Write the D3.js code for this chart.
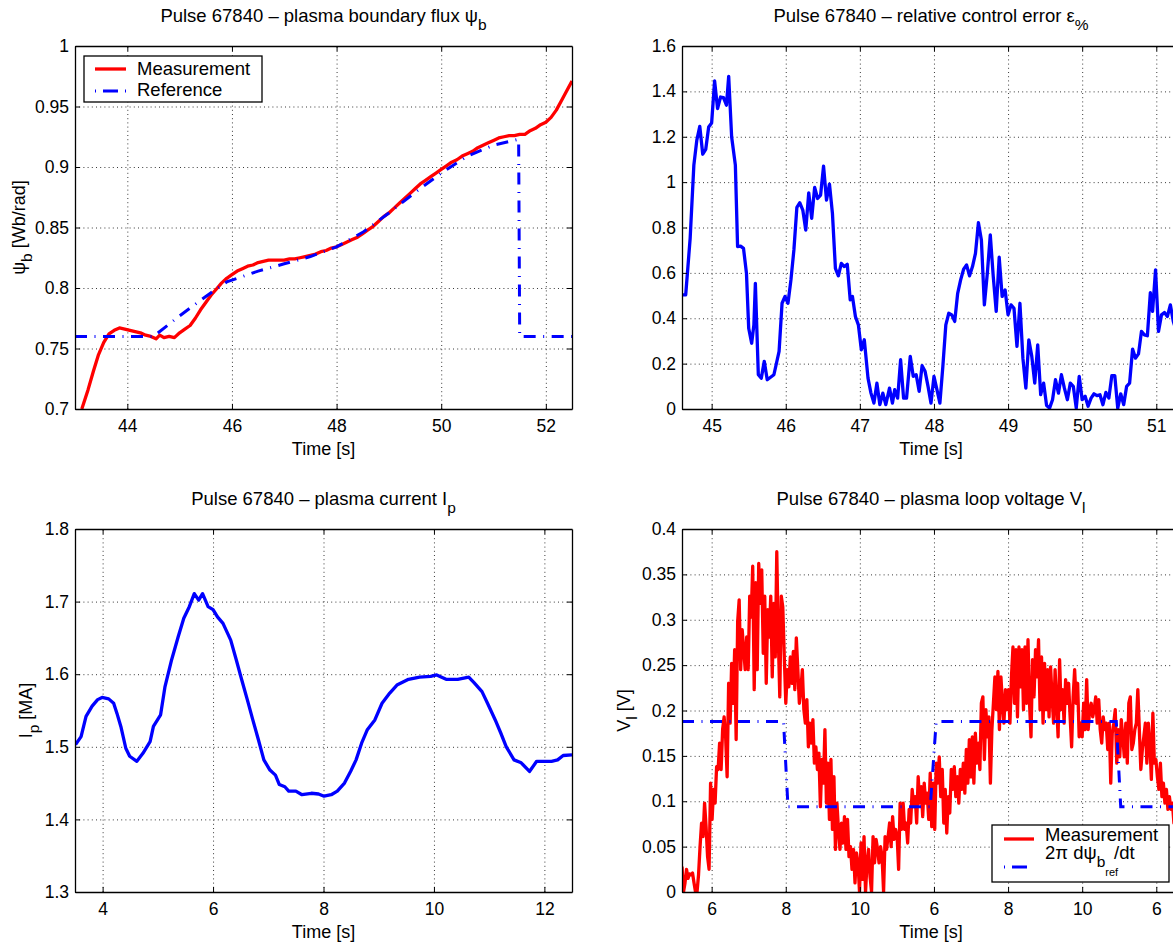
<!DOCTYPE html>
<html>
<head>
<meta charset="utf-8">
<script src="https://cdn.jsdelivr.net/npm/d3@7"></script>
<style>
  body { margin: 0; background: #fff; }
  text { font-family: "Liberation Sans", Arial, Helvetica, sans-serif; fill: #000; }
</style>
</head>
<body>
<svg id="fig" width="1173" height="943"></svg>
<script>
// ---------- Panel 1: plasma boundary flux psi_b [Wb/rad] ----------
const psiTime = [43.13,43.25,43.35,43.45,43.55,43.65,43.75,43.85,43.95,44.05,44.15,44.25,44.35,44.45,44.55,44.62,44.70,44.80,44.90,45.00,
  45.10,45.20,45.30,45.40,45.50,45.60,45.70,45.80,45.90,46.00,46.10,46.20,46.30,46.40,46.50,46.60,46.70,46.80,46.90,47.00,
  47.10,47.20,47.30,47.40,47.50,47.60,47.70,47.80,47.90,48.00,48.10,48.20,48.30,48.40,48.50,48.60,48.70,48.80,48.90,49.00,
  49.10,49.20,49.30,49.40,49.50,49.60,49.70,49.80,49.90,50.00,50.10,50.20,50.30,50.40,50.50,50.60,50.70,50.80,50.90,51.00,
  51.10,51.20,51.30,51.40,51.50,51.60,51.70,51.80,51.90,52.00,52.10,52.20,52.30,52.40,52.50];
const psiMeasured = [0.700,0.716,0.731,0.745,0.755,0.762,0.765,0.767,0.766,0.765,0.764,0.763,0.761,0.760,0.758,0.761,0.759,0.760,0.759,0.763,
  0.766,0.769,0.775,0.782,0.788,0.794,0.799,0.804,0.808,0.811,0.814,0.816,0.818,0.819,0.821,0.822,0.823,0.823,0.823,0.823,
  0.824,0.824,0.825,0.826,0.827,0.828,0.830,0.831,0.833,0.834,0.836,0.838,0.840,0.842,0.845,0.848,0.851,0.855,0.859,0.862,
  0.866,0.870,0.874,0.878,0.882,0.886,0.889,0.892,0.895,0.898,0.901,0.904,0.906,0.909,0.911,0.913,0.916,0.918,0.920,0.922,
  0.924,0.925,0.926,0.926,0.927,0.927,0.930,0.932,0.935,0.937,0.941,0.947,0.955,0.963,0.971];
const psiRefTime = [43.0,44.5,45.0,45.5,45.9,46.5,47.0,47.5,48.0,48.5,49.0,49.5,50.0,50.5,51.0,51.48,51.5,52.5];
const psiReference = [0.760,0.760,0.777,0.793,0.805,0.814,0.820,0.826,0.834,0.846,0.862,0.879,0.895,0.909,0.918,0.923,0.760,0.760];
const psiXTicks = [44,46,48,50,52];
const psiYTicks = [0.7,0.75,0.8,0.85,0.9,0.95,1];
const psiYTickLabels = ["0.7","0.75","0.8","0.85","0.9","0.95","1"];

// ---------- Panel 2: relative control error [%] ----------
const errTime = [44.60,44.65,44.71,44.76,44.80,44.84,44.88,44.92,44.96,45.00,45.04,45.08,45.12,45.16,45.20,45.23,45.27,45.32,45.35,45.39,
  45.43,45.47,45.50,45.54,45.57,45.59,45.63,45.67,45.71,45.75,45.80,45.84,45.87,45.91,45.95,45.99,46.03,46.07,46.11,46.15,
  46.19,46.23,46.27,46.31,46.35,46.39,46.43,46.47,46.51,46.55,46.59,46.63,46.67,46.71,46.75,46.79,46.83,46.87,46.90,46.94,
  46.98,47.02,47.06,47.11,47.15,47.19,47.23,47.27,47.31,47.35,47.40,47.44,47.47,47.51,47.55,47.59,47.63,47.68,47.72,47.76,
  47.80,47.84,47.88,47.92,47.96,48.00,48.04,48.08,48.12,48.16,48.20,48.24,48.28,48.32,48.36,48.40,48.44,48.48,48.52,48.56,
  48.60,48.64,48.68,48.72,48.76,48.80,48.84,48.88,48.92,48.96,49.00,49.04,49.08,49.12,49.16,49.20,49.24,49.28,49.32,49.36,
  49.40,49.44,49.48,49.52,49.56,49.60,49.64,49.68,49.72,49.76,49.80,49.84,49.88,49.92,49.96,50.00,50.04,50.08,50.12,50.16,
  50.20,50.24,50.28,50.32,50.36,50.40,50.44,50.48,50.52,50.56,50.60,50.64,50.68,50.72,50.76,50.80,50.84,50.88,50.92,50.95,
  50.99,51.03,51.07,51.11,51.15,51.19,51.23,51.27,51.31,51.35];
const errValue = [0.503,0.503,0.752,1.075,1.185,1.246,1.123,1.144,1.243,1.261,1.446,1.324,1.375,1.372,1.339,1.466,1.199,1.075,0.716,0.718,
  0.708,0.598,0.356,0.290,0.371,0.554,0.151,0.136,0.210,0.129,0.141,0.151,0.195,0.254,0.466,0.496,0.466,0.569,0.701,0.889,
  0.909,0.877,0.789,0.953,0.840,0.977,0.928,0.943,1.070,0.921,0.991,0.862,0.620,0.587,0.642,0.628,0.638,0.481,0.496,0.408,
  0.371,0.261,0.305,0.136,0.070,0.026,0.114,0.019,0.070,0.019,0.092,0.026,0.085,0.048,0.217,0.048,0.048,0.232,0.144,0.151,
  0.078,0.191,0.166,0.100,0.026,0.144,0.085,0.026,0.188,0.371,0.422,0.415,0.386,0.510,0.569,0.616,0.635,0.587,0.628,0.686,
  0.821,0.745,0.459,0.598,0.767,0.584,0.430,0.669,0.496,0.525,0.415,0.459,0.444,0.276,0.466,0.224,0.092,0.305,0.232,0.114,
  0.283,0.063,0.114,0.015,0.004,0.041,0.129,0.070,0.151,0.092,0.041,0.114,0.100,0.004,0.144,0.041,0.056,0.012,0.048,0.067,
  0.059,0.063,0.019,0.073,0.048,0.147,0.147,0.004,0.067,0.019,0.100,0.114,0.264,0.224,0.243,0.342,0.327,0.323,0.513,0.430,
  0.613,0.342,0.415,0.425,0.408,0.459,0.386,0.342,0.320,0.300];
const errXTicks = [45,46,47,48,49,50,51];
const errYTicks = [0,0.2,0.4,0.6,0.8,1,1.2,1.4,1.6];
const errYTickLabels = ["0","0.2","0.4","0.6","0.8","1","1.2","1.4","1.6"];

// ---------- Panel 3: plasma current Ip [MA] ----------
const ipTime = [3.51,3.61,3.70,3.81,3.91,3.99,4.11,4.20,4.26,4.33,4.42,4.49,4.62,4.73,4.86,4.92,5.05,5.13,5.25,5.37,
  5.47,5.57,5.66,5.74,5.81,5.91,6.00,6.08,6.18,6.32,6.42,6.52,6.62,6.72,6.82,6.92,7.03,7.13,7.20,7.30,
  7.37,7.50,7.61,7.78,7.91,8.01,8.14,8.25,8.38,8.49,8.59,8.69,8.79,8.93,9.06,9.20,9.33,9.54,9.74,9.94,
  10.05,10.22,10.43,10.63,10.73,10.87,10.97,11.11,11.21,11.31,11.45,11.58,11.73,11.86,12.00,12.13,12.24,12.34,12.50];
const ipValue = [1.503,1.514,1.542,1.556,1.565,1.568,1.566,1.560,1.546,1.528,1.498,1.487,1.480,1.491,1.507,1.528,1.544,1.583,1.620,1.652,
  1.677,1.693,1.711,1.702,1.711,1.693,1.689,1.679,1.670,1.647,1.620,1.592,1.565,1.537,1.510,1.482,1.468,1.461,1.448,1.445,
  1.439,1.439,1.434,1.436,1.435,1.432,1.434,1.439,1.450,1.466,1.482,1.505,1.523,1.537,1.560,1.574,1.585,1.593,1.596,1.597,
  1.599,1.593,1.593,1.596,1.588,1.576,1.560,1.537,1.519,1.500,1.482,1.478,1.466,1.480,1.480,1.480,1.482,1.488,1.489];
const ipXTicks = [4,6,8,10,12];
const ipYTicks = [1.3,1.4,1.5,1.6,1.7,1.8];
const ipYTickLabels = ["1.3","1.4","1.5","1.6","1.7","1.8"];

// ---------- Panel 4: loop voltage Vl [V] ----------
// measured loop voltage, uniformly sampled from vlStart every vlStep seconds
const vlStart = 44.6;
const vlStep = 0.0203;
const vlMeasured = [0.028,0.0,0.01,0.025,0.015,0.02,0.019,0.021,0.01,0.0,0.0,0.019,0.05,0.076,0.061,0.098,0.072,0.039,0.025,0.12,
  0.08,0.113,0.098,0.138,0.135,0.164,0.135,0.179,0.193,0.171,0.127,0.23,0.186,0.252,0.208,0.267,0.168,0.298,0.322,0.245,
  0.289,0.267,0.245,0.281,0.245,0.326,0.303,0.359,0.223,0.341,0.245,0.362,0.318,0.355,0.263,0.326,0.23,0.311,0.281,0.326,
  0.237,0.318,0.259,0.375,0.281,0.215,0.326,0.314,0.259,0.208,0.245,0.226,0.259,0.23,0.265,0.223,0.28,0.245,0.208,0.223,
  0.245,0.201,0.186,0.212,0.16,0.186,0.164,0.19,0.142,0.16,0.135,0.153,0.094,0.146,0.12,0.179,0.098,0.142,0.08,0.146,
  0.069,0.127,0.047,0.098,0.069,0.047,0.076,0.054,0.083,0.047,0.08,0.039,0.05,0.025,0.047,0.01,0.043,0.032,0.0,0.054,
  0.014,0.061,0.0,0.032,0.047,0.017,0.0,0.061,0.032,0.058,0.047,0.032,0.05,0.039,0.0,0.061,0.047,0.061,0.076,0.05,
  0.083,0.058,0.069,0.061,0.025,0.098,0.069,0.098,0.069,0.076,0.054,0.091,0.076,0.113,0.094,0.105,0.076,0.127,0.098,0.116,
  0.083,0.12,0.098,0.109,0.08,0.131,0.072,0.12,0.069,0.142,0.12,0.149,0.105,0.135,0.076,0.113,0.065,0.105,0.087,0.135,
  0.113,0.138,0.105,0.127,0.098,0.135,0.113,0.142,0.109,0.157,0.12,0.168,0.127,0.171,0.12,0.175,0.142,0.164,0.135,0.208,
  0.215,0.146,0.201,0.171,0.193,0.12,0.179,0.208,0.237,0.201,0.243,0.179,0.237,0.208,0.186,0.223,0.201,0.223,0.186,0.237,
  0.27,0.208,0.267,0.193,0.27,0.226,0.267,0.201,0.27,0.208,0.278,0.208,0.171,0.256,0.215,0.267,0.237,0.278,0.201,0.259,
  0.186,0.252,0.201,0.245,0.193,0.248,0.215,0.186,0.245,0.208,0.171,0.256,0.201,0.223,0.186,0.234,0.208,0.23,0.193,0.16,
  0.215,0.245,0.208,0.23,0.171,0.186,0.171,0.208,0.179,0.234,0.179,0.201,0.208,0.193,0.201,0.215,0.186,0.212,0.179,0.164,
  0.193,0.179,0.186,0.157,0.186,0.12,0.175,0.186,0.201,0.142,0.179,0.149,0.19,0.171,0.149,0.186,0.142,0.208,0.215,0.157,
  0.164,0.179,0.186,0.223,0.179,0.135,0.157,0.171,0.186,0.142,0.186,0.164,0.124,0.197,0.142,0.146,0.127,0.113,0.142,0.105,
  0.12,0.098,0.113,0.091,0.105,0.091,0.098,0.076,0.087,0.061,0.065,0.05,0.055];
const vlRefTime = [44.6,45.97,46.03,47.95,48.03,50.46,50.52,51.4];
const vlReference = [0.188,0.188,0.094,0.094,0.188,0.188,0.094,0.094];
const vlXTicks = [45,46,47,48,49,50,51];
const vlXTickLabels = ["6","8","10","6","8","10","6"];
const vlYTicks = [0,0.05,0.1,0.15,0.2,0.25,0.3,0.35,0.4];
const vlYTickLabels = ["0","0.05","0.1","0.15","0.2","0.25","0.3","0.35","0.4"];

// ---------- drawing ----------
const RED = "#ff0000", BLUE = "#0000ff";
const FS_TICK = 17.5, FS_TEXT = 18.5;
const svg = d3.select("#fig");
svg.append("rect").attr("width", 1173).attr("height", 943).attr("fill", "#fff");

const boxes = {
  psi: {left: 75, right: 572, top: 46, bottom: 409},
  err: {left: 682, right: 1180, top: 46, bottom: 409},
  ip:  {left: 75, right: 572, top: 529, bottom: 892},
  vl:  {left: 682, right: 1180, top: 529, bottom: 892}
};

function makeAxes(key, xDomain, yDomain, xTicks, xLabels, yTicks, yLabels) {
  const b = boxes[key];
  const w = b.right - b.left, h = b.bottom - b.top;
  const x = d3.scaleLinear().domain(xDomain).range([b.left, b.right]);
  const y = d3.scaleLinear().domain(yDomain).range([b.bottom, b.top]);
  const g = svg.append("g");
  g.append("defs").append("clipPath").attr("id", "clip-" + key)
    .append("rect").attr("x", b.left).attr("y", b.top).attr("width", w).attr("height", h);

  // dotted grid
  const gridX = g.append("g").attr("transform", `translate(0,${b.bottom})`)
    .call(d3.axisBottom(x).tickValues(xTicks).tickSize(-h).tickFormat(""));
  const gridY = g.append("g").attr("transform", `translate(${b.left},0)`)
    .call(d3.axisLeft(y).tickValues(yTicks).tickSize(-w).tickFormat(""));
  [gridX, gridY].forEach(s => {
    s.select(".domain").remove();
    s.selectAll("line").attr("stroke", "#3a3a3a").attr("stroke-width", 1).attr("stroke-dasharray", "1,3.2");
  });

  const plot = g.append("g").attr("clip-path", `url(#clip-${key})`);
  const frame = g.append("g");

  const fmtX = (d, i) => xLabels ? xLabels[i] : String(d);
  const fmtY = (d, i) => yLabels[i];

  const bottom = frame.append("g").attr("transform", `translate(0,${b.bottom})`)
    .call(d3.axisBottom(x).tickValues(xTicks).tickFormat(fmtX).tickSizeInner(-5).tickSizeOuter(0).tickPadding(11));
  const top = frame.append("g").attr("transform", `translate(0,${b.top})`)
    .call(d3.axisTop(x).tickValues(xTicks).tickFormat("").tickSizeInner(-5).tickSizeOuter(0));
  const left = frame.append("g").attr("transform", `translate(${b.left},0)`)
    .call(d3.axisLeft(y).tickValues(yTicks).tickFormat(fmtY).tickSizeInner(-5).tickSizeOuter(0).tickPadding(6));
  const right = frame.append("g").attr("transform", `translate(${b.right},0)`)
    .call(d3.axisRight(y).tickValues(yTicks).tickFormat("").tickSizeInner(-5).tickSizeOuter(0));
  [bottom, top, left, right].forEach(s => {
    s.select(".domain").attr("stroke", "#000").attr("stroke-width", 1.3);
    s.selectAll(".tick line").attr("stroke", "#000").attr("stroke-width", 1);
    s.selectAll("text").attr("font-size", FS_TICK).attr("font-family", null).attr("fill", "#000");
  });

  // x label
  frame.append("text").attr("x", (b.left + b.right) / 2).attr("y", b.bottom + 46)
    .attr("text-anchor", "middle").attr("font-size", 18).text("Time [s]");
  return {x, y, plot, frame, b};
}

function title(b, main, sub) {
  const t = svg.append("text").attr("x", (b.left + b.right) / 2).attr("y", b.top - 24)
    .attr("text-anchor", "middle").attr("font-size", FS_TEXT);
  t.append("tspan").text(main);
  t.append("tspan").attr("dy", 8).attr("font-size", 15.5).text(sub);
}

function yLabel(b, x, main, sub, rest) {
  const cy = (b.top + b.bottom) / 2;
  const t = svg.append("text").attr("transform", `translate(${x},${cy}) rotate(-90)`)
    .attr("text-anchor", "middle").attr("font-size", 18);
  t.append("tspan").text(main);
  t.append("tspan").attr("dy", 7).attr("font-size", 15.5).text(sub);
  t.append("tspan").attr("dy", -7).text(rest);
}

const lineOf = (x, y) => d3.line().x(d => x(d[0])).y(d => y(d[1]));
const DASHDOT = "12,7.5,1,7.5";

// Panel 1
{
  const a = makeAxes("psi", [43, 52.5], [0.7, 1], psiXTicks, null, psiYTicks, psiYTickLabels);
  const meas = psiTime.map((t, i) => [t, psiMeasured[i]]);
  const ref = psiRefTime.map((t, i) => [t, psiReference[i]]);
  a.plot.append("path").attr("d", lineOf(a.x, a.y)(meas)).attr("fill", "none")
    .attr("stroke", RED).attr("stroke-width", 3.3).attr("stroke-linejoin", "round");
  a.plot.append("path").attr("d", lineOf(a.x, a.y)(ref)).attr("fill", "none")
    .attr("stroke", BLUE).attr("stroke-width", 3).attr("stroke-dasharray", DASHDOT);
  title(a.b, "Pulse 67840 \u2013 plasma boundary flux \u03c8", "b");
  yLabel(a.b, 25, "\u03c8", "b", " [Wb/rad]");

  // legend
  const L = a.frame.append("g");
  L.append("rect").attr("x", 84).attr("y", 56).attr("width", 178).attr("height", 46)
    .attr("fill", "#fff").attr("stroke", "#000").attr("stroke-width", 1.3);
  L.append("line").attr("x1", 95).attr("x2", 126).attr("y1", 69).attr("y2", 69)
    .attr("stroke", RED).attr("stroke-width", 3.3);
  L.append("text").attr("x", 137).attr("y", 75).attr("font-size", FS_TEXT).text("Measurement");
  L.append("line").attr("x1", 95).attr("x2", 126).attr("y1", 91).attr("y2", 91)
    .attr("stroke", BLUE).attr("stroke-width", 3).attr("stroke-dasharray", "1,7,15,7,1");
  L.append("text").attr("x", 137).attr("y", 96).attr("font-size", FS_TEXT).text("Reference");
}

// Panel 2
{
  const a = makeAxes("err", [44.6, 51.32], [0, 1.6], errXTicks, null, errYTicks, errYTickLabels);
  const pts = errTime.map((t, i) => [t, errValue[i]]);
  a.plot.append("path").attr("d", lineOf(a.x, a.y)(pts)).attr("fill", "none")
    .attr("stroke", BLUE).attr("stroke-width", 3.3).attr("stroke-linejoin", "round");
  title(a.b, "Pulse 67840 \u2013 relative control error \u03b5", "%");
}

// Panel 3
{
  const a = makeAxes("ip", [3.5, 12.5], [1.3, 1.8], ipXTicks, null, ipYTicks, ipYTickLabels);
  const pts = ipTime.map((t, i) => [t, ipValue[i]]);
  a.plot.append("path").attr("d", lineOf(a.x, a.y)(pts)).attr("fill", "none")
    .attr("stroke", BLUE).attr("stroke-width", 3.3).attr("stroke-linejoin", "round");
  title(a.b, "Pulse 67840 \u2013 plasma current I", "p");
  yLabel(a.b, 32, "I", "p", " [MA]");
}

// Panel 4
{
  const a = makeAxes("vl", [44.6, 51.32], [0, 0.4], vlXTicks, vlXTickLabels, vlYTicks, vlYTickLabels);
  const meas = vlMeasured.map((v, i) => [vlStart + i * vlStep, v]);
  const ref = vlRefTime.map((t, i) => [t, vlReference[i]]);
  a.plot.append("path").attr("d", lineOf(a.x, a.y)(meas)).attr("fill", "none")
    .attr("stroke", RED).attr("stroke-width", 3.3).attr("stroke-linejoin", "round");
  a.plot.append("path").attr("d", lineOf(a.x, a.y)(ref)).attr("fill", "none")
    .attr("stroke", BLUE).attr("stroke-width", 3).attr("stroke-dasharray", DASHDOT);
  title(a.b, "Pulse 67840 \u2013 plasma loop voltage V", "l");
  yLabel(a.b, 630, "V", "l", " [V]");

  // legend
  const L = a.frame.append("g");
  L.append("rect").attr("x", 992).attr("y", 825).attr("width", 177).attr("height", 57)
    .attr("fill", "#fff").attr("stroke", "#000").attr("stroke-width", 1.3);
  L.append("line").attr("x1", 1004).attr("x2", 1034).attr("y1", 839).attr("y2", 839)
    .attr("stroke", RED).attr("stroke-width", 3.3);
  L.append("text").attr("x", 1045).attr("y", 841).attr("font-size", FS_TEXT).text("Measurement");
  const t2 = L.append("text").attr("x", 1045).attr("y", 859).attr("font-size", FS_TEXT);
  t2.append("tspan").text("2\u03c0 d\u03c8");
  t2.append("tspan").attr("dy", 8).attr("font-size", 15.5).text("b");
  t2.append("tspan").attr("dy", 9).attr("font-size", 11).text("ref");
  L.append("text").attr("x", 1114).attr("y", 859).attr("font-size", FS_TEXT).text("/dt");
  L.append("line").attr("x1", 1004).attr("x2", 1034).attr("y1", 867).attr("y2", 867)
    .attr("stroke", BLUE).attr("stroke-width", 3).attr("stroke-dasharray", "1,7,15,7,1");
}
</script>
</body>
</html>
